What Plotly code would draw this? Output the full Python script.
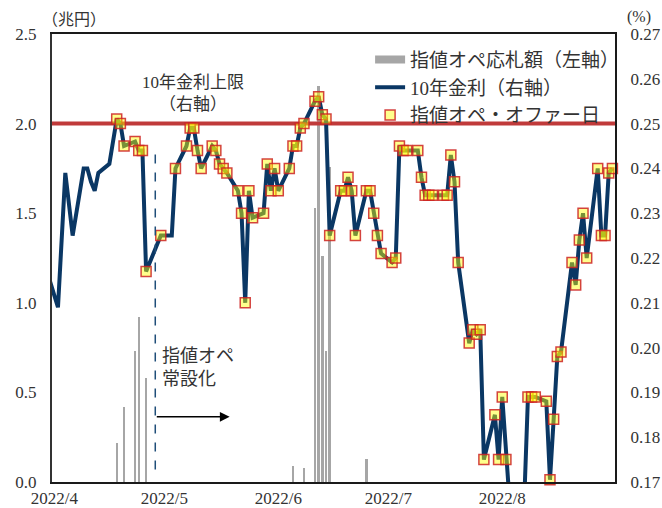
import plotly.graph_objects as go
import pandas as pd

# ---------------- data ----------------
dates = [
    "2022-04-01", "2022-04-04", "2022-04-05", "2022-04-06", "2022-04-07", "2022-04-08",
    "2022-04-11", "2022-04-12", "2022-04-13", "2022-04-14", "2022-04-15",
    "2022-04-18", "2022-04-19", "2022-04-20", "2022-04-21", "2022-04-22",
    "2022-04-25", "2022-04-26", "2022-04-27", "2022-04-28",
    "2022-05-02", "2022-05-03", "2022-05-04", "2022-05-05", "2022-05-06",
    "2022-05-09", "2022-05-10", "2022-05-11", "2022-05-12", "2022-05-13",
    "2022-05-16", "2022-05-17", "2022-05-18", "2022-05-19", "2022-05-20",
    "2022-05-23", "2022-05-24", "2022-05-25", "2022-05-26", "2022-05-27",
    "2022-05-30", "2022-05-31",
    "2022-06-01", "2022-06-02", "2022-06-03",
    "2022-06-06", "2022-06-07", "2022-06-08", "2022-06-09", "2022-06-10",
    "2022-06-13", "2022-06-14", "2022-06-15", "2022-06-16", "2022-06-17",
    "2022-06-20", "2022-06-21", "2022-06-22", "2022-06-23", "2022-06-24",
    "2022-06-27", "2022-06-28", "2022-06-29", "2022-06-30",
    "2022-07-01", "2022-07-04", "2022-07-05", "2022-07-06", "2022-07-07", "2022-07-08",
    "2022-07-11", "2022-07-12", "2022-07-13", "2022-07-14", "2022-07-15",
    "2022-07-18", "2022-07-19", "2022-07-20", "2022-07-21", "2022-07-22",
    "2022-07-25", "2022-07-26", "2022-07-27", "2022-07-28", "2022-07-29",
    "2022-08-01", "2022-08-02", "2022-08-03", "2022-08-04", "2022-08-05",
    "2022-08-08", "2022-08-09", "2022-08-10", "2022-08-11", "2022-08-12",
    "2022-08-15", "2022-08-16", "2022-08-17", "2022-08-18", "2022-08-19",
    "2022-08-22", "2022-08-23", "2022-08-24", "2022-08-25", "2022-08-26",
    "2022-08-29", "2022-08-30", "2022-08-31", "2022-09-01", "2022-09-02",
]

# 10-year JGB yield (%), right axis
yields = [
    0.217, 0.209, 0.224, 0.239, 0.232, 0.225,
    0.240, 0.240, 0.237, 0.235, 0.239,
    0.241, 0.246, 0.251, 0.250, 0.245,
    0.246, 0.244, 0.244, 0.217,
    0.225, 0.225, 0.225, 0.225, 0.240,
    0.245, 0.249, 0.249, 0.244, 0.240,
    0.245, 0.244, 0.241, 0.240, 0.239,
    0.235, 0.230, 0.210, 0.235, 0.229,
    0.230, 0.241,
    0.235, 0.240, 0.235,
    0.240, 0.245, 0.245, 0.249, 0.250,
    0.255, 0.256, 0.252, 0.251, 0.225,
    0.235, 0.235, 0.238, 0.235, 0.225,
    0.235, 0.235, 0.230, 0.225,
    0.221, 0.219, 0.220, 0.245, 0.244, 0.244,
    0.244, 0.238, 0.234, 0.234, 0.234,
    0.234, 0.234, 0.243, 0.237, 0.219,
    0.201, 0.204, 0.203, 0.204, 0.175,
    0.185, 0.175, 0.189, 0.175, 0.1655,
    0.164, 0.166, 0.189, 0.189, 0.189,
    0.188, 0.1705, 0.184, 0.198, 0.199,
    0.219, 0.214, 0.224, 0.230, 0.220,
    0.240, 0.225, 0.225, 0.239, 0.240,
]

# fixed-rate operation offers: from this date on, except these days
offer_start = "2022-04-20"
no_offer_days = ["2022-05-03", "2022-05-04", "2022-05-05"]

# bids at fixed-rate operations (trillion yen), left axis
bid_dates = ["2022-04-20", "2022-04-22", "2022-04-25", "2022-04-26", "2022-04-28",
             "2022-06-07", "2022-06-10", "2022-06-13", "2022-06-14", "2022-06-15",
             "2022-06-16", "2022-06-17", "2022-06-27"]
bid_amounts = [0.22, 0.42, 0.73, 0.92, 0.58,
               0.09, 0.08, 1.53, 2.21, 1.26,
               0.73, 1.76, 0.13]

yield_cap = 0.25
regularization_date = "2022-04-30 12:00"

month_starts = ["2022-04-01", "2022-05-01", "2022-06-01", "2022-07-01", "2022-08-01"]
month_labels = ["2022/4", "2022/5", "2022/6", "2022/7", "2022/8"]

left_ticks = [0.0, 0.5, 1.0, 1.5, 2.0, 2.5]
right_ticks = [0.17, 0.18, 0.19, 0.20, 0.21, 0.22, 0.23, 0.24, 0.25, 0.26, 0.27]

x_range = ["2022-04-02 09:00", "2022-09-02 17:00"]

# ---------------- styling ----------------
FONT = "Liberation Serif, Noto Sans CJK JP, serif"
TXT = "#333333"
NAVY = "#0a3764"
RED = "#c03a3a"
GRAY = "#a6a6a6"

y2_min, y2_max = right_ticks[0], right_ticks[-1]
mk_x, mk_y = [], []
for d, v in zip(dates, yields):
    if d >= offer_start and d not in no_offer_days and v >= y2_min:
        mk_x.append(d)
        mk_y.append(v)

tickvals = [pd.Timestamp(d) + pd.Timedelta(days=2) for d in month_starts]

fig = go.Figure()

fig.add_trace(go.Bar(
    x=bid_dates, y=bid_amounts, width=0.65 * 86400000,
    marker=dict(color=GRAY, line=dict(width=0)),
    showlegend=False, yaxis="y", hoverinfo="x+y",
))
# legend proxy for bars (thick gray line, like the original legend)
fig.add_trace(go.Scatter(
    x=[None], y=[None], mode="lines", line=dict(color=GRAY, width=8),
    name="指値オペ応札額（左軸）", yaxis="y",
))
fig.add_trace(go.Scatter(
    x=x_range, y=[yield_cap, yield_cap], mode="lines",
    line=dict(color=RED, width=4), yaxis="y2", showlegend=False, hoverinfo="skip",
))
fig.add_trace(go.Scatter(
    x=dates, y=yields, mode="lines", line=dict(color=NAVY, width=4),
    name="10年金利（右軸）", yaxis="y2",
))
fig.add_trace(go.Scatter(
    x=mk_x, y=mk_y, mode="markers", yaxis="y2", cliponaxis=False,
    marker=dict(symbol="square", size=10, color="rgba(255,255,0,0.45)",
                line=dict(color="rgba(205,35,35,0.85)", width=1.5)),
    name="指値オペ・オファー日",
))

fig.add_shape(type="line", xref="x", yref="y",
              x0=regularization_date, x1=regularization_date, y0=0.07, y1=1.86,
              line=dict(color="#1f4e79", width=1.5, dash="dash"))

fig.add_annotation(x="2022-05-20 18:00", y=0.364, ax=regularization_date, ay=0.364,
                   xref="x", yref="y", axref="x", ayref="y", text="",
                   showarrow=True, arrowhead=2, arrowsize=1.3, arrowwidth=1.5,
                   arrowcolor="#000000")

PW, PH = 563.5, 448.0
fig.add_annotation(x=(160 - 52) / PW, y=(482 - 367) / PH,
                   xref="paper", yref="paper", xanchor="left", yanchor="middle",
                   text="指値オペ<br>常設化", showarrow=False, align="left",
                   font=dict(family=FONT, size=18, color=TXT))
fig.add_annotation(x=(193 - 52) / PW, y=(482 - 94) / PH,
                   xref="paper", yref="paper", xanchor="center", yanchor="middle",
                   text="10年金利上限<br>（右軸）", showarrow=False, align="center",
                   font=dict(family=FONT, size=17, color=TXT))
fig.add_annotation(x=(74 - 52) / PW, y=(482 - 19) / PH,
                   xref="paper", yref="paper", xanchor="center", yanchor="middle",
                   text="（兆円）", showarrow=False,
                   font=dict(family=FONT, size=16, color=TXT))
fig.add_annotation(x=(640 - 52) / PW, y=(482 - 17) / PH,
                   xref="paper", yref="paper", xanchor="center", yanchor="middle",
                   text="(%)", showarrow=False,
                   font=dict(family=FONT, size=16, color=TXT))

fig.update_layout(
    width=662, height=508,
    margin=dict(l=52, r=46.5, t=34, b=26, pad=0, autoexpand=False),
    paper_bgcolor="white", plot_bgcolor="white",
    font=dict(family=FONT, size=17, color=TXT),
    showlegend=True,
    legend=dict(x=0.565, y=0.985, xanchor="left", yanchor="top",
                bgcolor="rgba(255,255,255,0)", borderwidth=0,
                font=dict(family=FONT, size=19, color=TXT),
                tracegroupgap=0),
    xaxis=dict(type="date", range=x_range, tickvals=tickvals, ticktext=month_labels,
               automargin=False,
               showgrid=False, zeroline=False, showline=True, linecolor="#1a1a1a",
               linewidth=2, mirror=True, ticks="", tickfont=dict(family=FONT, size=17, color=TXT)),
    yaxis=dict(range=[left_ticks[0], left_ticks[-1]], tickvals=left_ticks, tickformat=".1f",
               automargin=False,
               showgrid=False, zeroline=False, showline=True, linecolor="#333333", linewidth=2,
               ticks="outside", ticklen=10, tickcolor="rgba(0,0,0,0)",
               tickfont=dict(family=FONT, size=17, color=TXT)),
    yaxis2=dict(range=[y2_min, y2_max], tickvals=right_ticks, tickformat=".2f",
                automargin=False,
                overlaying="y", side="right", showgrid=False, zeroline=False,
                showline=True, linecolor="#1a1a1a", linewidth=2,
                ticks="outside", ticklen=10, tickcolor="rgba(0,0,0,0)",
                tickfont=dict(family=FONT, size=17, color=TXT)),
    bargap=0,
)

fig.write_html("out.html")
